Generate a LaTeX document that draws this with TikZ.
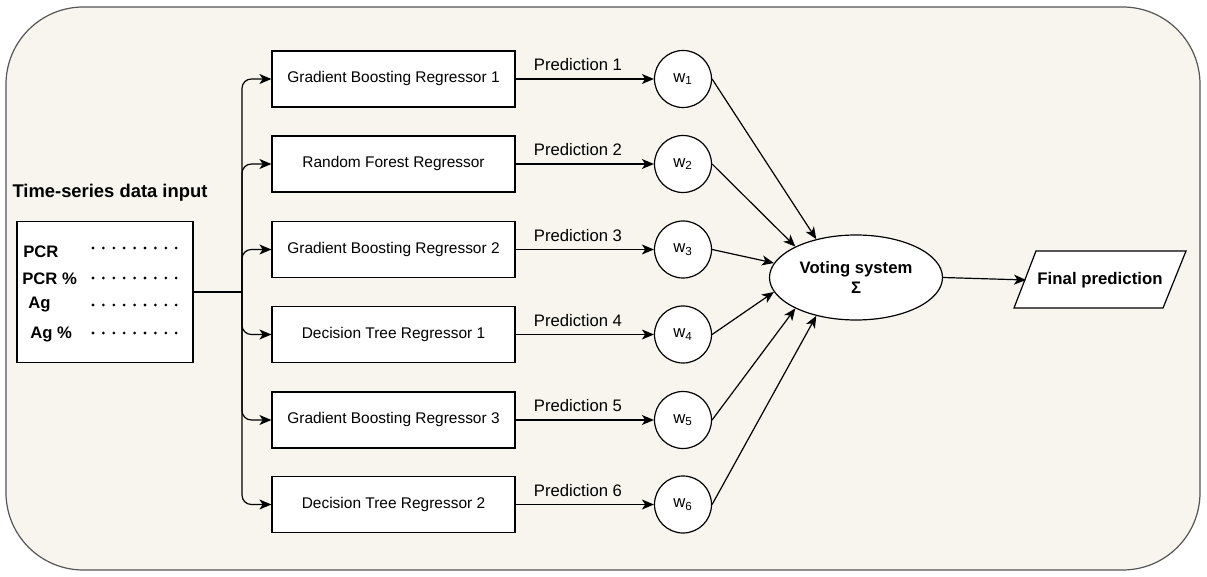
\documentclass[tikz,border=0pt]{standalone}
\usepackage{fontspec}
\setmainfont{Liberation Sans}
\usetikzlibrary{arrows.meta,shapes.geometric}
\definecolor{bgc}{HTML}{F7F5EE}
\definecolor{bdc}{HTML}{555555}
\tikzset{
  arr/.style={-{Stealth[length=9pt,width=7.5pt,inset=2.5pt]}, line width=0.9pt},
  model/.style={draw, line width=0.9pt, fill=white, minimum width=182.25pt, minimum height=42pt, font=\fontsize{11.6pt}{13pt}\selectfont, inner sep=0pt},
  wt/.style={draw, circle, line width=0.9pt, fill=white, minimum size=42.75pt, inner sep=0pt, font=\fontsize{12.5pt}{14pt}\selectfont},
  plab/.style={font=\fontsize{12.5pt}{14pt}\selectfont, inner sep=0pt},
  rowlab/.style={font=\bfseries\fontsize{12.5pt}{14pt}\selectfont, inner sep=0pt, anchor=west},
}
\begin{document}
\begin{tikzpicture}[x=0.75pt,y=-0.75pt]
\useasboundingbox (0,0) rectangle (1207,577);
\draw[fill=bgc, draw=bdc, line width=0.9pt, rounded corners=58pt] (6,7) rectangle (1200,570);

% input
\node[font=\bfseries\fontsize{13.8pt}{16pt}\selectfont, inner sep=0pt] (title) at (110,193) {Time-series data input};
\node[draw, line width=0.9pt, fill=white, minimum width=132pt, minimum height=105.75pt, inner sep=0pt] (in) at (105,292) {};
\node[rowlab] (r1) at (23,252) {PCR};
\node[rowlab] (r2) at (22,279) {PCR \%};
\node[rowlab] (r3) at (28,305) {Ag};
\node[rowlab] (r4) at (30,334) {Ag \%};
\foreach \yy in {248,278,305,333}{
  \foreach \k in {0,...,8}{
    \fill (93+\k*10.4,\yy) circle (1.15pt);
  }
}

% models
\node[model] (m1) at (393.5,79) {Gradient Boosting Regressor 1};
\node[model] (m2) at (393.5,164) {Random Forest Regressor};
\node[model] (m3) at (393.5,249.5) {Gradient Boosting Regressor 2};
\node[model] (m4) at (393.5,334.5) {Decision Tree Regressor 1};
\node[model] (m5) at (393.5,420) {Gradient Boosting Regressor 3};
\node[model] (m6) at (393.5,504.5) {Decision Tree Regressor 2};

% weights
\node[wt] (w1) at (683,79) {w\textsubscript{1}};
\node[wt] (w2) at (683,164) {w\textsubscript{2}};
\node[wt] (w3) at (683,249.5) {w\textsubscript{3}};
\node[wt] (w4) at (683,334.5) {w\textsubscript{4}};
\node[wt] (w5) at (683,420) {w\textsubscript{5}};
\node[wt] (w6) at (683,504.5) {w\textsubscript{6}};

% voting
\node[draw, ellipse, line width=0.9pt, fill=white, minimum width=129.75pt, minimum height=63.75pt, inner sep=0pt, align=center, font=\bfseries\fontsize{12.5pt}{15.5pt}\selectfont] (vote) at (856,277.5) {Voting system\\Σ};

% final
\draw[line width=0.9pt, fill=white] (1014,308) -- (1036,251) -- (1186,251) -- (1163,308) -- cycle;
\node[font=\bfseries\fontsize{12.6pt}{14pt}\selectfont, inner sep=0pt] (final) at (1100,280) {Final prediction};
\coordinate (finin) at (1026,280);

% connectors input -> models
\coordinate (j) at (242,292);
\draw[line width=0.9pt] (in.east) -- (j);
\foreach \m in {m1,m2,m3,m4,m5,m6}{
  \draw[arr, rounded corners=7pt] (j) |- (\m.west);
}

% models -> weights
\foreach \i/\yy in {1/79,2/164,3/249.5,4/334.5,5/420,6/504.5}{
  \draw[arr] (m\i.east) -- (w\i.west);
  \node[plab] (p\i) at (578,\yy-14) {Prediction \i};
}

% weights -> voting
\draw[arr] (w1.east) -- (vote.136);
\draw[arr] (w2.east) -- (vote.153);
\draw[arr] (w3.east) -- (vote.170);
\draw[arr] (w4.east) -- (vote.190);
\draw[arr] (w5.east) -- (vote.207);
\draw[arr] (w6.east) -- (vote.224);

\draw[arr] (vote.east) -- (finin);
\end{tikzpicture}
\end{document}
